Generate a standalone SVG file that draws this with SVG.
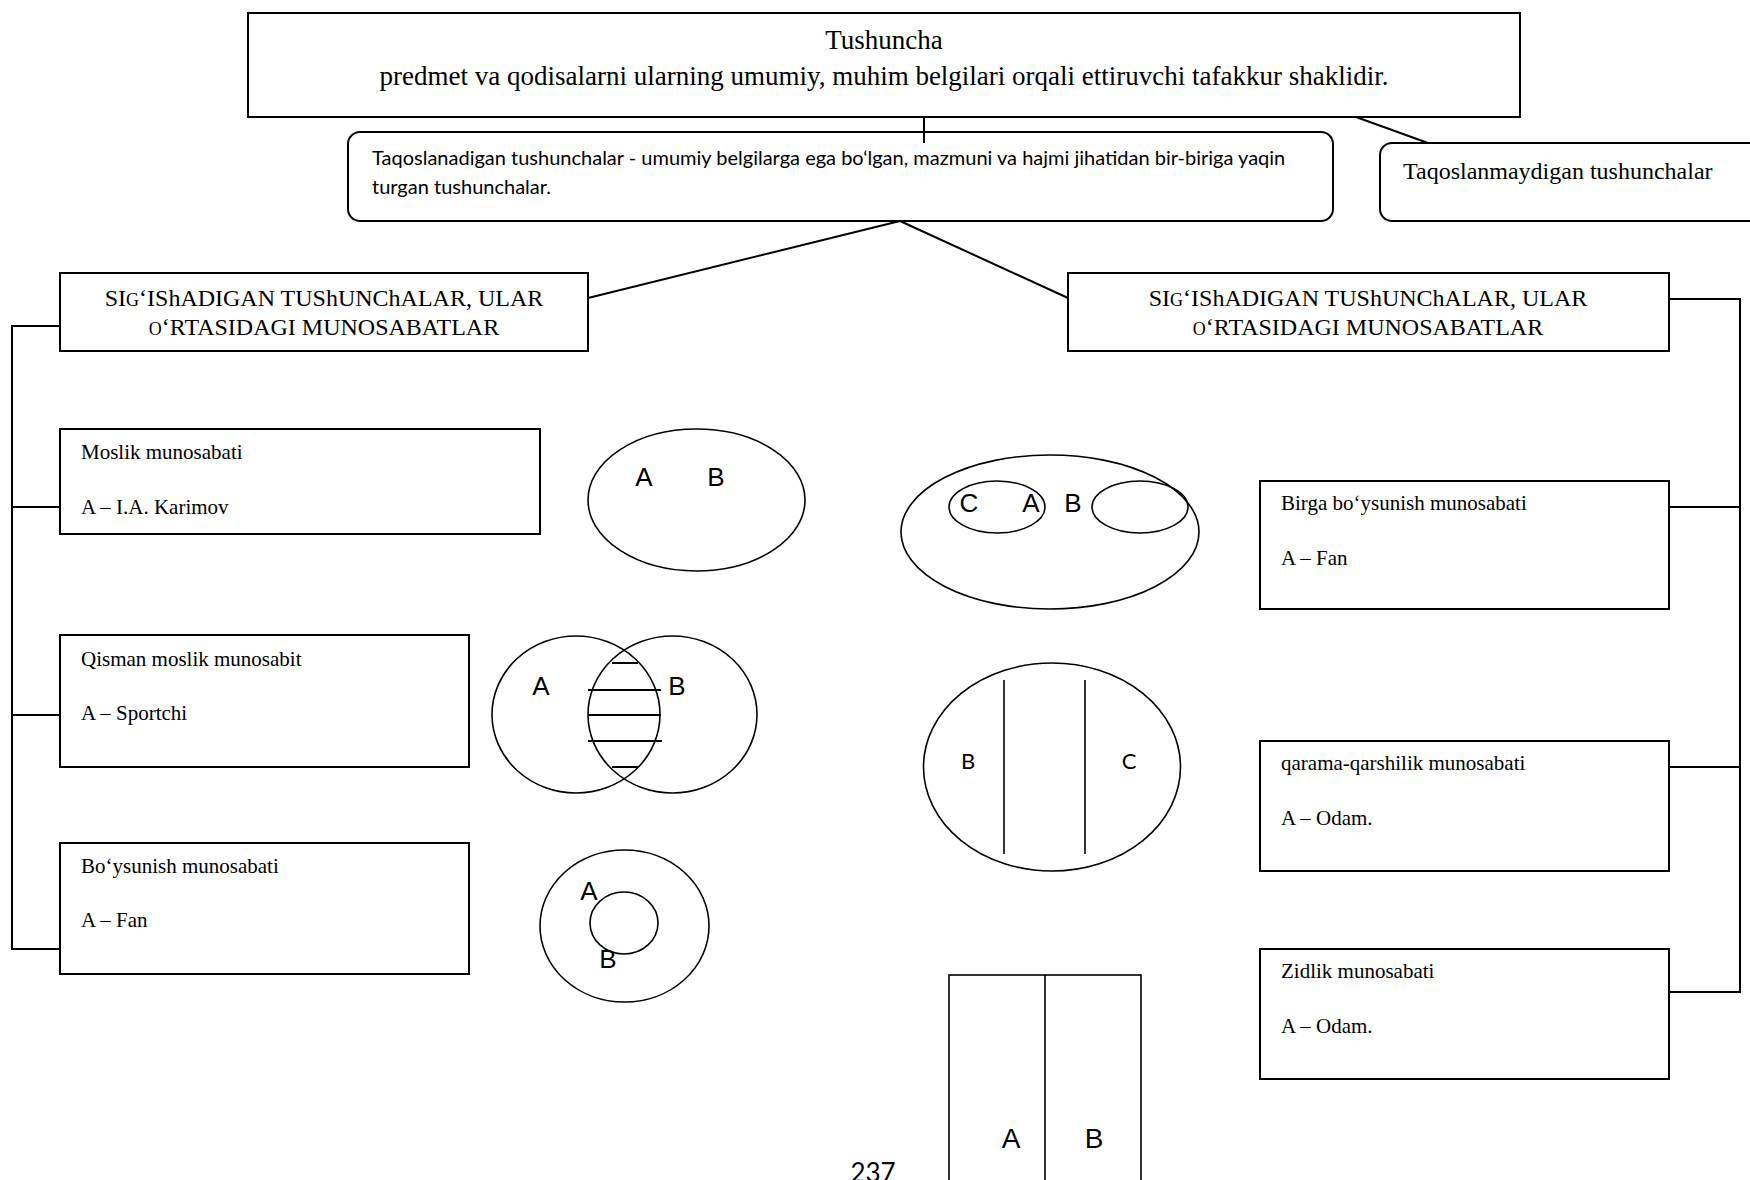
<svg xmlns="http://www.w3.org/2000/svg" width="1750" height="1180" viewBox="0 0 1750 1180">
<style>
.box{fill:#fff;stroke:#000;stroke-width:2}
.ln{fill:none;stroke:#000;stroke-width:2}
.sh{fill:none;stroke:#000;stroke-width:1.6}
.ser{font-family:"Liberation Serif","Times New Roman",serif;fill:#000}
.t24{font-size:24px}
.t27{font-size:27px}
.t21{font-size:21px}
.cal{font-family:Lato,"Open Sans",sans-serif;fill:#000}
.ari{font-family:"Liberation Sans",Arial,sans-serif;fill:#000}
</style>
<rect width="1750" height="1180" fill="#fff"/>
<g id="connectors">
<line class="ln" x1="924" y1="117" x2="924" y2="143"/>
<line class="ln" x1="1356" y1="117" x2="1428" y2="143"/>
<line class="ln" x1="900" y1="221" x2="588" y2="298"/>
<line class="ln" x1="900" y1="221" x2="1068" y2="298"/>
<polyline class="ln" points="60,326 12,326 12,949 60,949"/>
<line class="ln" x1="12" y1="507" x2="60" y2="507"/>
<line class="ln" x1="12" y1="715" x2="60" y2="715"/>
<polyline class="ln" points="1669,299 1740,299 1740,992 1669,992"/>
<line class="ln" x1="1669" y1="507" x2="1740" y2="507"/>
<line class="ln" x1="1669" y1="767" x2="1740" y2="767"/>
</g>
<g id="tushuncha">
<rect class="box" x="248" y="13" width="1272" height="104"/>
<text class="ser t27" x="884" y="49" text-anchor="middle">Tushuncha</text>
<text class="ser t27" x="884" y="85" text-anchor="middle">predmet va qodisalarni ularning umumiy, muhim belgilari orqali ettiruvchi tafakkur shaklidir.</text>
</g>
<g id="taqoslanadigan">
<rect class="box" x="348" y="132" width="985" height="89" rx="12"/>
<text class="cal" font-size="20" x="372" y="165">Taqoslanadigan tushunchalar - umumiy belgilarga ega bo‘lgan, mazmuni va hajmi jihatidan bir-biriga yaqin</text>
<text class="cal" font-size="20" x="372" y="194">turgan tushunchalar.</text>
</g>
<line class="ln" x1="924" y1="132" x2="924" y2="143"/>
<g id="taqoslanmaydigan">
<rect class="box" x="1380" y="143" width="420" height="78" rx="12"/>
<text class="ser t24" x="1403" y="179">Taqoslanmaydigan tushunchalar</text>
</g>
<g id="sig-left">
<rect class="box" x="60" y="273" width="528" height="78"/>
<text class="ser t24" x="324" y="306" text-anchor="middle">SI<tspan font-size="18">G</tspan>ʻIShADIGAN TUShUNChALAR, ULAR</text>
<text class="ser t24" x="324" y="335" text-anchor="middle"><tspan font-size="18">O</tspan>ʻRTASIDAGI MUNOSABATLAR</text>
</g>
<g id="sig-right">
<rect class="box" x="1068" y="273" width="601" height="78"/>
<text class="ser t24" x="1368" y="306" text-anchor="middle">SI<tspan font-size="18">G</tspan>ʻIShADIGAN TUShUNChALAR, ULAR</text>
<text class="ser t24" x="1368" y="335" text-anchor="middle"><tspan font-size="18">O</tspan>ʻRTASIDAGI MUNOSABATLAR</text>
</g>
<g id="moslik">
<rect class="box" x="60" y="429" width="480" height="105"/>
<text class="ser t21" x="81" y="459">Moslik munosabati</text>
<text class="ser t21" x="81" y="514">A – I.A. Karimov</text>
</g>
<g id="qisman">
<rect class="box" x="60" y="635" width="409" height="132"/>
<text class="ser t21" x="81" y="666">Qisman moslik munosabit</text>
<text class="ser t21" x="81" y="720">A – Sportchi</text>
</g>
<g id="boysunish">
<rect class="box" x="60" y="843" width="409" height="131"/>
<text class="ser t21" x="81" y="873">Bo‘ysunish munosabati</text>
<text class="ser t21" x="81" y="927">A – Fan</text>
</g>
<g id="birga">
<rect class="box" x="1260" y="481" width="409" height="128"/>
<text class="ser t21" x="1281" y="510">Birga bo‘ysunish munosabati</text>
<text class="ser t21" x="1281" y="565">A – Fan</text>
</g>
<g id="qarama">
<rect class="box" x="1260" y="741" width="409" height="130"/>
<text class="ser t21" x="1281" y="770">qarama-qarshilik munosabati</text>
<text class="ser t21" x="1281" y="825">A – Odam.</text>
</g>
<g id="zidlik">
<rect class="box" x="1260" y="949" width="409" height="130"/>
<text class="ser t21" x="1281" y="978">Zidlik munosabati</text>
<text class="ser t21" x="1281" y="1033">A – Odam.</text>
</g>
<g id="moslik-diagram">
<ellipse class="sh" cx="696.5" cy="500" rx="108.5" ry="71"/>
<text class="ari" font-size="26" x="644" y="486" text-anchor="middle">A</text>
<text class="ari" font-size="26" x="716" y="486" text-anchor="middle">B</text>
</g>
<g id="qisman-diagram">
<ellipse class="sh" cx="576" cy="714.5" rx="84" ry="78.5"/>
<ellipse class="sh" cx="672.5" cy="714.5" rx="84.5" ry="78.5"/>
<g class="ln" stroke-width="1.8">
<line x1="612" y1="663" x2="638" y2="663"/>
<line x1="588" y1="690" x2="661" y2="690"/>
<line x1="588" y1="715" x2="661" y2="715"/>
<line x1="588" y1="741" x2="662" y2="741"/>
<line x1="612" y1="767" x2="638" y2="767"/>
</g>
<text class="ari" font-size="26" x="541" y="695" text-anchor="middle">A</text>
<text class="ari" font-size="26" x="677" y="695" text-anchor="middle">B</text>
</g>
<g id="boysunish-diagram">
<ellipse class="sh" cx="624.5" cy="926" rx="84.5" ry="76"/>
<ellipse class="sh" cx="624" cy="923" rx="34" ry="31"/>
<text class="ari" font-size="26" x="589" y="900" text-anchor="middle">A</text>
<text class="ari" font-size="26" x="608" y="968" text-anchor="middle">B</text>
</g>
<g id="birga-diagram">
<ellipse class="sh" cx="1050" cy="532" rx="149" ry="77"/>
<ellipse class="sh" cx="997" cy="507" rx="48" ry="26"/>
<ellipse class="sh" cx="1140" cy="507" rx="48" ry="26"/>
<text class="ari" font-size="26" x="969" y="512" text-anchor="middle">C</text>
<text class="ari" font-size="26" x="1031" y="512" text-anchor="middle">A</text>
<text class="ari" font-size="26" x="1073" y="512" text-anchor="middle">B</text>
</g>
<g id="qarama-diagram">
<ellipse class="sh" cx="1052" cy="767" rx="128.5" ry="104"/>
<line class="sh" x1="1004" y1="680" x2="1004" y2="854"/>
<line class="sh" x1="1085" y1="680" x2="1085" y2="854"/>
<text class="cal" font-size="22" x="968" y="769" text-anchor="middle">B</text>
<text class="cal" font-size="22" x="1129" y="769" text-anchor="middle">C</text>
</g>
<g id="zidlik-diagram">
<rect class="sh" x="949" y="975" width="192" height="230"/>
<line class="sh" x1="1045" y1="975" x2="1045" y2="1190"/>
<text class="ari" font-size="28" x="1011" y="1148" text-anchor="middle">A</text>
<text class="ari" font-size="28" x="1094" y="1148" text-anchor="middle">B</text>
</g>
<text class="cal" font-size="26" x="873" y="1182" text-anchor="middle">237</text>
</svg>
